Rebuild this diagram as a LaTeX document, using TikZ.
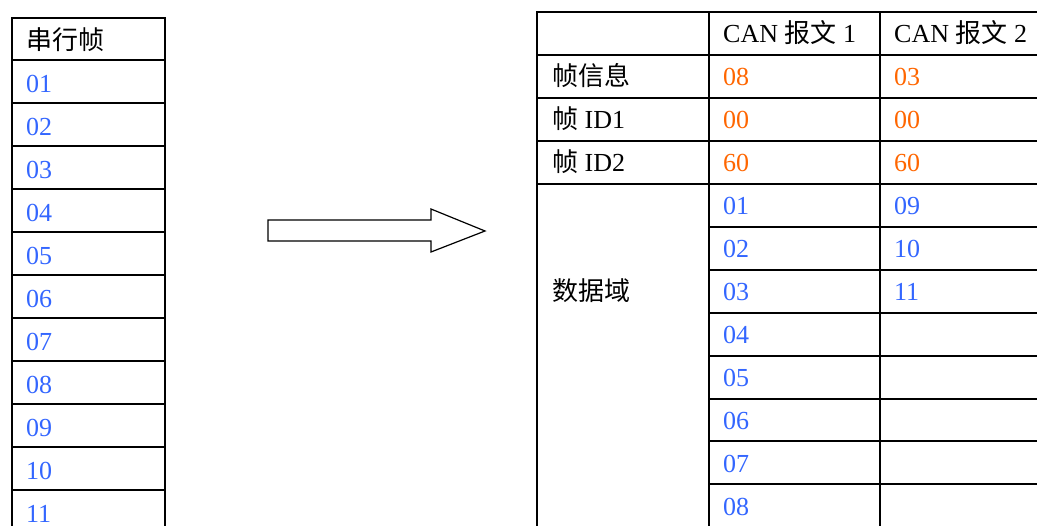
\documentclass[tikz,border=0pt]{standalone}
\usepackage{fontspec}
\setmainfont{Liberation Serif}
\newfontfamily\cjk{Noto Sans CJK SC}
\definecolor{numblue}{HTML}{3366FF}
\definecolor{numorange}{HTML}{FF6600}
\begin{document}
\begin{tikzpicture}[x=1pt,y=-1pt,
  grid/.style={line width=1.5pt},
  txt/.style={anchor=base west, inner sep=0pt, font=\fontsize{26}{30}\selectfont},
  bluetxt/.style={txt, text=numblue},
  orangetxt/.style={txt, text=numorange},
  bigarrow/.style={line width=1.2pt, fill=white}]
\clip (0,0) rectangle (1037,526);
% left table
\draw[grid] (12,540) -- (12,18) -- (165,18) -- (165,540);
\foreach \y in {60,103,146,189,232,275,318,361,404,447,490} \draw[grid] (12,\y) -- (165,\y);
\node[txt] (lh) at (26,50) {\cjk 串行帧};
\foreach \t [count=\i] in {01,02,03,04,05,06,07,08,09,10,11}
  \node[bluetxt] (l\i) at (26,{18+43*\i+31.5}) {\t};
% arrow
\draw[bigarrow] (268,220) -- (431,220) -- (431,209) -- (485,231) -- (431,252) -- (431,241) -- (268,241) -- cycle;
% right table
\draw[grid] (537,540) -- (537,12) -- (1045,12);
\draw[grid] (709,12) -- (709,540);
\draw[grid] (880,12) -- (880,540);
\foreach \y in {55,98,141,184} \draw[grid] (537,\y) -- (1045,\y);
\foreach \y in {227,270,313,356,399,441,484} \draw[grid] (709,\y) -- (1045,\y);
\node[txt] (h1) at (723,43) {CAN {\cjk 报文} 1};
\node[txt] (h2) at (894,43) {CAN {\cjk 报文} 2};
\node[txt] (r1) at (552,86) {\cjk 帧信息};
\node[txt] (r2) at (552,129) {{\cjk 帧} ID1};
\node[txt] (r3) at (552,172) {{\cjk 帧} ID2};
\node[txt] (r4) at (552,301) {\cjk 数据域};
\node[orangetxt] (a1) at (723,86) {08};
\node[orangetxt] (a2) at (723,129) {00};
\node[orangetxt] (a3) at (723,172) {60};
\node[orangetxt] (b1) at (894,86) {03};
\node[orangetxt] (b2) at (894,129) {00};
\node[orangetxt] (b3) at (894,172) {60};
\foreach \t [count=\i] in {01,02,03,04,05,06,07,08}
  \node[bluetxt] (d\i) at (723,{184+43*(\i-1)+31}) {\t};
\foreach \t [count=\i] in {09,10,11}
  \node[bluetxt] (e\i) at (894,{184+43*(\i-1)+31}) {\t};
\end{tikzpicture}
\end{document}
